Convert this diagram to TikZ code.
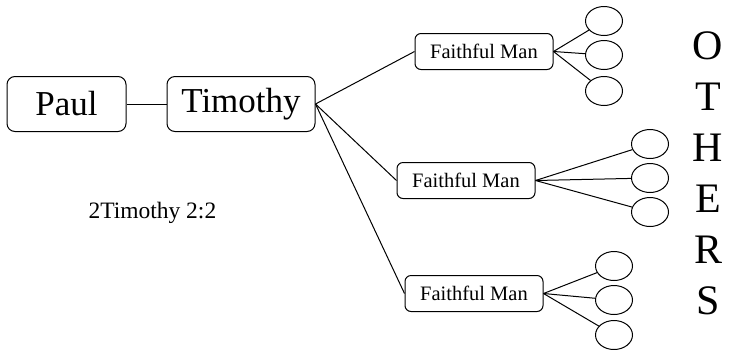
\documentclass[tikz,border=0pt]{standalone}
\usepackage{fontspec}
\setmainfont{Liberation Serif}
\usetikzlibrary{shapes.geometric}

\begin{document}
\begin{tikzpicture}[
  x=1pt, y=-1pt,
  line width=1pt,
  bigbox/.style={draw, rounded corners=8pt, minimum width=119pt, minimum height=55pt, font=\fontsize{35}{40}\selectfont},
  manbox/.style={draw, rounded corners=6pt, minimum width=138pt, minimum height=36pt, font=\fontsize{20.5}{24}\selectfont},
  disciple/.style={draw, ellipse, minimum width=37pt, minimum height=29pt, inner sep=0pt}
]
\useasboundingbox (0,0) rectangle (730,349);

% Nodes (left to right)
\node[bigbox] (paul) at (66.5,104) {Paul};
\node[bigbox, minimum width=148pt] (timothy) at (241,104) {Timothy};
\node[manbox] (man1) at (484,51.5) {Faithful Man};
\node[manbox] (man2) at (466,180.5) {Faithful Man};
\node[manbox] (man3) at (474,293.5) {Faithful Man};

% Ellipses for the others
\node[disciple] (d11) at (604,21) {};
\node[disciple] (d12) at (604,55) {};
\node[disciple] (d13) at (604,91) {};

\node[disciple] (d21) at (650,144) {};
\node[disciple] (d22) at (650,178) {};
\node[disciple] (d23) at (650,212) {};

\node[disciple] (d31) at (614,266) {};
\node[disciple] (d32) at (614,300) {};
\node[disciple] (d33) at (614,335) {};

% Verse and side text
\node[anchor=base west, inner sep=0pt, font=\fontsize{23.5}{28}\selectfont] (verse) at (88,218) {2Timothy 2:2};
\node[align=center, inner sep=0pt, font=\fontsize{42}{51}\selectfont] (others) at (708,173) {O\\T\\H\\E\\R\\S};

% Straight edges
\draw (paul) -- (timothy);

\draw (timothy.east) -- (man1.west);
\draw (timothy.east) -- (man2.west);
\draw (timothy.east) -- (man3.west);

\draw (man1.east) -- (d11);
\draw (man1.east) -- (d12);
\draw (man1.east) -- (d13);

\draw (man2.east) -- (d21);
\draw (man2.east) -- (d22);
\draw (man2.east) -- (d23);

\draw (man3.east) -- (d31);
\draw (man3.east) -- (d32);
\draw (man3.east) -- (d33);

\end{tikzpicture}
\end{document}
